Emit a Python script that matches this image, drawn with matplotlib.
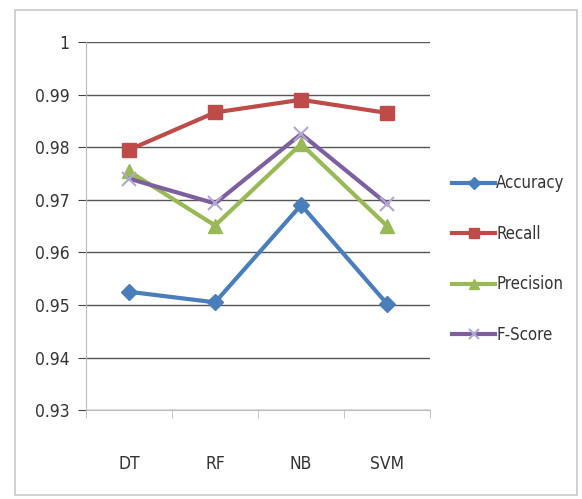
import matplotlib.pyplot as plt
from matplotlib.patches import Rectangle

# classifier scores
models = ['DT', 'RF', 'NB', 'SVM']
accuracy = [0.9525, 0.9505, 0.969, 0.9502]
recall = [0.9795, 0.9866, 0.989, 0.9865]
precision = [0.9754, 0.9651, 0.9806, 0.9650]
f_score = [0.9740, 0.9693, 0.9825, 0.9692]
y_ticks = [0.93, 0.94, 0.95, 0.96, 0.97, 0.98, 0.99, 1.0]
y_labels = ['0.93', '0.94', '0.95', '0.96', '0.97', '0.98', '0.99', '1']

plt.rcParams['font.family'] = ['DejaVu Sans']
plt.rcParams['font.stretch'] = 'condensed'

fig = plt.figure(figsize=(5.82, 4.99), dpi=100)
fig.patches.append(Rectangle((0.026, 0.008), 0.965, 0.972, transform=fig.transFigure,
                             fill=False, edgecolor='#c8c8c8', linewidth=1.2))
ax = fig.add_axes([0.148, 0.178, 0.591, 0.738])

x = range(len(models))
ax.plot(x, accuracy, color='#4a7ebb', lw=3, marker='D', ms=8, label='Accuracy')
ax.plot(x, recall, color='#be4b48', lw=3, marker='s', ms=10, label='Recall')
ax.plot(x, precision, color='#98b954', lw=3, marker='^', ms=10, label='Precision')
ax.plot(x, f_score, color='#7d5fa0', lw=3, marker='x', ms=10, mew=1.5,
        mec='#b0a8d0', label='F-Score')

ax.set_xlim(-0.5, len(models) - 0.5)
ax.set_ylim(0.93, 1.0)
ax.set_yticks(y_ticks)
ax.set_yticklabels(y_labels, fontsize=12.5, color='#333333')
ax.set_xticks(list(x))
ax.set_xticklabels(models, fontsize=12.5, color='#333333')
ax.tick_params(axis='x', length=0, pad=32)
ax.tick_params(axis='y', length=6, color='#444444', pad=6)
ax.set_xticks([i - 0.5 for i in range(len(models) + 1)], minor=True)
ax.tick_params(axis='x', which='minor', length=6, color='#bbbbbb', direction='out')

ax.grid(axis='y', color='#555555', lw=1)
ax.set_axisbelow(True)
for s in ['top', 'right']:
    ax.spines[s].set_visible(False)
ax.spines['left'].set_color('#bbbbbb')
ax.spines['bottom'].set_color('#bbbbbb')

leg = ax.legend(loc='center left', bbox_to_anchor=(1.02, 0.41), frameon=False,
                fontsize=12, labelspacing=1.95, handlelength=2.6, handletextpad=0.05,
                labelcolor='#333333', markerscale=0.75)

fig.savefig('out.png', dpi=100)
